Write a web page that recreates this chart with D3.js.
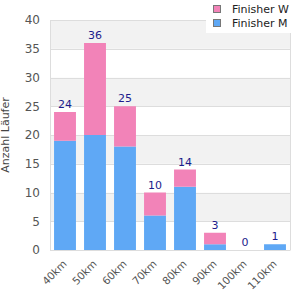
<!DOCTYPE html>
<html>
<head>
<meta charset="utf-8">
<script src="https://cdn.jsdelivr.net/npm/d3@7"></script>
<style>
 body { margin: 0; background: #fff; }
 svg { display: block; font-family: "DejaVu Sans", sans-serif; }
</style>
</head>
<body>
<svg id="chart" width="300" height="300"></svg>
<script>
// chart data
var categories = ["40km", "50km", "60km", "70km", "80km", "90km", "100km", "110km"];
var finisherM = [19, 20, 18, 6, 11, 1, 0, 1];
var finisherW = [5, 16, 7, 4, 3, 2, 0, 0];
var yTicks = [0, 5, 10, 15, 20, 25, 30, 35, 40];
var seriesNames = ["Finisher W", "Finisher M"];
var seriesColors = ["#f283b8", "#5fa8f5"];

var svg = d3.select("#chart");
var plotLeft = 50, plotRight = 290, plotTop = 20, plotBottom = 250;

var x = d3.scaleBand().domain(categories).range([plotLeft, plotRight]).paddingInner(0.27).paddingOuter(0.135);
var y = d3.scaleLinear().domain([0, 40]).range([plotBottom, plotTop]);

// alternating bands
for (var i = 0; i < yTicks.length - 1; i++)
    {
    svg.append("rect")
        .attr("x", plotLeft).attr("width", plotRight - plotLeft)
        .attr("y", y(yTicks[i + 1])).attr("height", y(yTicks[i]) - y(yTicks[i + 1]))
        .attr("fill", i % 2 === 1 ? "#f2f2f2" : "#ffffff");
    }

// grid lines
svg.selectAll("line.grid").data(yTicks).enter().append("line")
    .attr("class", "grid")
    .attr("x1", plotLeft).attr("x2", plotRight)
    .attr("y1", function(d) { return Math.round(y(d)) + 0.5; })
    .attr("y2", function(d) { return Math.round(y(d)) + 0.5; })
    .attr("stroke", "#dddddd");

svg.append("line").attr("x1", plotLeft + 0.5).attr("x2", plotLeft + 0.5).attr("y1", plotTop).attr("y2", plotBottom)
    .attr("stroke", "#dddddd");
svg.append("line").attr("x1", plotRight + 0.5).attr("x2", plotRight + 0.5).attr("y1", plotTop).attr("y2", plotBottom)
    .attr("stroke", "#dddddd");

// bars
var totals = categories.map(function(c, i) { return finisherM[i] + finisherW[i]; });

svg.selectAll("rect.m").data(categories).enter().append("rect")
    .attr("class", "m")
    .attr("x", function(d) { return x(d); })
    .attr("width", x.bandwidth())
    .attr("y", function(d, i) { return y(finisherM[i]); })
    .attr("height", function(d, i) { return y(0) - y(finisherM[i]); })
    .attr("fill", seriesColors[1]);

svg.selectAll("rect.w").data(categories).enter().append("rect")
    .attr("class", "w")
    .attr("x", function(d) { return x(d); })
    .attr("width", x.bandwidth())
    .attr("y", function(d, i) { return y(totals[i]); })
    .attr("height", function(d, i) { return y(finisherM[i]) - y(totals[i]); })
    .attr("fill", seriesColors[0]);

// total labels
svg.selectAll("text.total").data(categories).enter().append("text")
    .attr("class", "total")
    .attr("x", function(d) { return x(d) + x.bandwidth() / 2; })
    .attr("y", function(d, i) { return y(totals[i]) - 4; })
    .attr("text-anchor", "middle")
    .attr("font-size", 11)
    .attr("fill", "#1c1c8c")
    .text(function(d, i) { return totals[i]; });

// y axis
var yAxis = d3.axisLeft(y).tickValues(yTicks).tickSize(0).tickPadding(10);
var gy = svg.append("g").attr("transform", "translate(" + plotLeft + ",0)").call(yAxis);
gy.select(".domain").remove();
gy.selectAll("text").attr("font-size", 12).attr("fill", "#555").attr("font-family", "DejaVu Sans, sans-serif");

// x axis
var xAxis = d3.axisBottom(x).tickSize(0).tickPadding(0);
var gx = svg.append("g").attr("transform", "translate(0," + plotBottom + ")").call(xAxis);
gx.select(".domain").attr("stroke", "#dddddd");
gx.selectAll("text")
    .attr("font-size", 10.5).attr("fill", "#555").attr("font-family", "DejaVu Sans, sans-serif")
    .attr("text-anchor", "end")
    .attr("y", 0)
    .attr("dy", "0.35em")
    .attr("transform", "translate(0,12) rotate(-45)");

// y label
svg.append("text")
    .attr("transform", "translate(9,135) rotate(-90)")
    .attr("text-anchor", "middle")
    .attr("font-size", 11)
    .attr("fill", "#444")
    .text("Anzahl Läufer");

// legend
svg.append("rect").attr("x", 206).attr("y", 0).attr("width", 86).attr("height", 33).attr("fill", "#fff");
var lg = svg.selectAll("g.legend").data(seriesNames).enter().append("g")
    .attr("class", "legend")
    .attr("transform", function(d, i) { return "translate(213," + (5 + i * 14) + ")"; });
lg.append("rect").attr("x", 0.5).attr("y", 0.5).attr("width", 7).attr("height", 7)
    .attr("fill", function(d, i) { return seriesColors[i]; })
    .attr("stroke", "#777");
lg.append("text").attr("x", 19).attr("y", 8)
    .attr("font-size", 11).attr("fill", "#222")
    .text(function(d) { return d; });
</script>
</body>
</html>
